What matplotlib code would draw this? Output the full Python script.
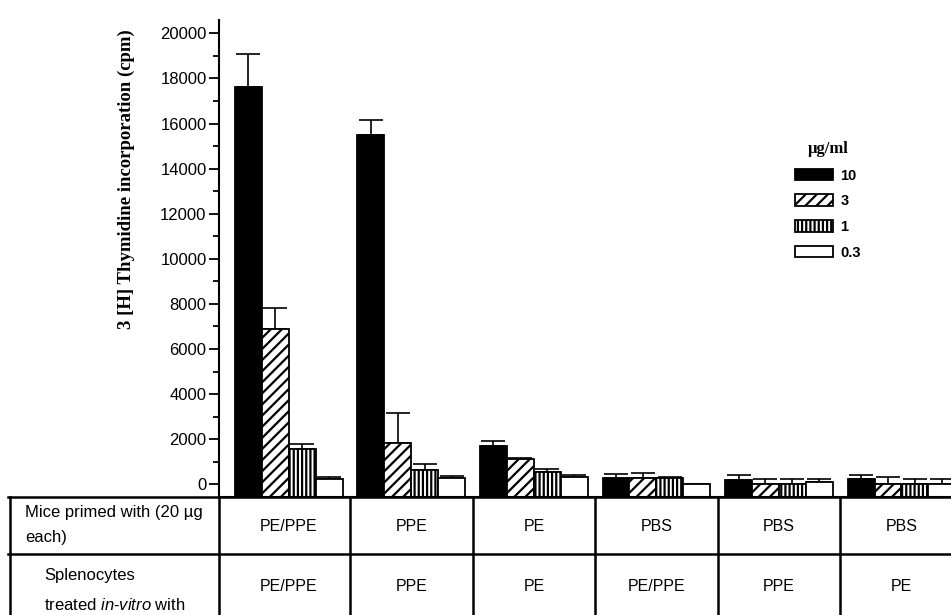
import numpy as np
import matplotlib.pyplot as plt
from matplotlib.ticker import MultipleLocator

plt.rcParams['font.family'] = ['Liberation Sans', 'DejaVu Sans']
plt.rcParams['hatch.linewidth'] = 1.6
plt.rcParams['mathtext.fontset'] = 'custom'
plt.rcParams['mathtext.rm'] = 'Liberation Sans'
plt.rcParams['mathtext.it'] = 'Liberation Sans:italic'

# data
doses = ['10', '3', '1', '0.3']
primed = ['PE/PPE', 'PPE', 'PE', 'PBS', 'PBS', 'PBS']
treated = ['PE/PPE', 'PPE', 'PE', 'PE/PPE', 'PPE', 'PE']

cpm_10 = [17600, 15490, 1710, 295, 190, 220]
cpm_3 = [6870, 1850, 1120, 265, 0, 0]
cpm_1 = [1570, 635, 560, 265, 0, 0]
cpm_03 = [220, 290, 310, 0, 115, 0]
sem_10 = [1480, 665, 210, 145, 220, 190]
sem_3 = [960, 1300, 60, 235, 220, 320]
sem_1 = [210, 265, 140, 60, 220, 220]
sem_03 = [100, 80, 100, 0, 105, 220]

series = [cpm_10, cpm_3, cpm_1, cpm_03]
errors = [sem_10, sem_3, sem_1, sem_03]
fills = ['black', 'white', 'white', 'white']
hatches = [None, '///', '||||', None]

fig = plt.figure(figsize=(9.51, 6.15), dpi=100)
W, H = 951, 615
ax = fig.add_axes([219 / W, 1 - 496.7 / H, 1 - 219 / W, (496.7 - 20) / H])

base = -550
x = np.arange(len(primed))
w = 0.22
handles = []
for i in range(4):
    vals = np.array(series[i])
    xs = x + (i - 1.5) * w
    b = ax.bar(xs, vals - base, bottom=base, width=w, color=fills[i],
               edgecolor='black', linewidth=1.3, hatch=hatches[i], zorder=2)
    handles.append(b)
    ax.errorbar(xs, vals, yerr=[np.zeros(len(vals)), errors[i]], fmt='none',
                ecolor='black', elinewidth=1.2, capsize=8.5, capthick=1.2, zorder=1)

ax.set_xlim(-0.57, 5.404)
ax.set_ylim(base, 20590)
ax.set_yticks(range(0, 20001, 2000))
ax.yaxis.set_minor_locator(MultipleLocator(1000))
ax.tick_params(axis='y', which='major', length=7, width=1.3, labelsize=12, pad=2)
ax.tick_params(axis='y', which='minor', length=4, width=1.3)
ax.set_xticks([])
for s in ['top', 'right']:
    ax.spines[s].set_visible(False)
ax.spines['left'].set_linewidth(1.5)
ax.spines['bottom'].set_linewidth(1.5)

fig.text(0.1325, 0.709, '3 [H] Thymidine incorporation (cpm)', rotation=90,
         ha='center', va='center', family='Liberation Serif', weight='bold', size=13.5)

ax.legend(handles, doses, title='µg/ml', loc='upper left',
          bbox_to_anchor=(795 / W, 1 - 141 / H), bbox_transform=fig.transFigure,
          frameon=False, handlelength=2.6, handleheight=0.85, labelspacing=0.8,
          handletextpad=0.5, borderaxespad=0, borderpad=0,
          prop={'weight': 'bold', 'size': 10.5},
          title_fontproperties={'family': 'Liberation Serif', 'weight': 'bold', 'size': 12})

# table under the bars
rows = 118.3 / 57.3
tab = fig.add_axes([8 / W, 0, 1 - 8 / W, 1 - 496.7 / H])
tab.set_xlim(-2.293, 5.404)
tab.set_ylim(rows, 0)
tab.axis('off')
lw = 1.8
tab.plot([-2.293, 5.404], [0, 0], color='black', lw=lw, clip_on=False)
tab.plot([-2.293, 5.404], [1, 1], color='black', lw=lw, clip_on=False)
for xv in [-2.28, -0.57] + [k + 0.5 for k in range(5)]:
    tab.plot([xv, xv], [0, 2.2], color='black', lw=lw, clip_on=False)

for k in range(len(primed)):
    tab.text(k, 0.52, primed[k], ha='center', va='center', size=11.5)
    tab.text(k, 1.57, treated[k], ha='center', va='center', size=11.5)

tab.text(0.018, 1 - 0.28 / rows, 'Mice primed with (20 µg', transform=tab.transAxes,
         ha='left', va='center', size=12)
tab.text(0.018, 1 - 0.72 / rows, 'each)', transform=tab.transAxes,
         ha='left', va='center', size=12)
tab.text(0.038, 1 - 1.37 / rows, 'Splenocytes', transform=tab.transAxes,
         ha='left', va='center', size=12)
tab.text(0.038, 1 - 1.89 / rows, r'treated $\mathit{in}$-$\mathit{vitro}$ with',
         transform=tab.transAxes, ha='left', va='center', size=12)

plt.savefig('out.png', dpi=100)
